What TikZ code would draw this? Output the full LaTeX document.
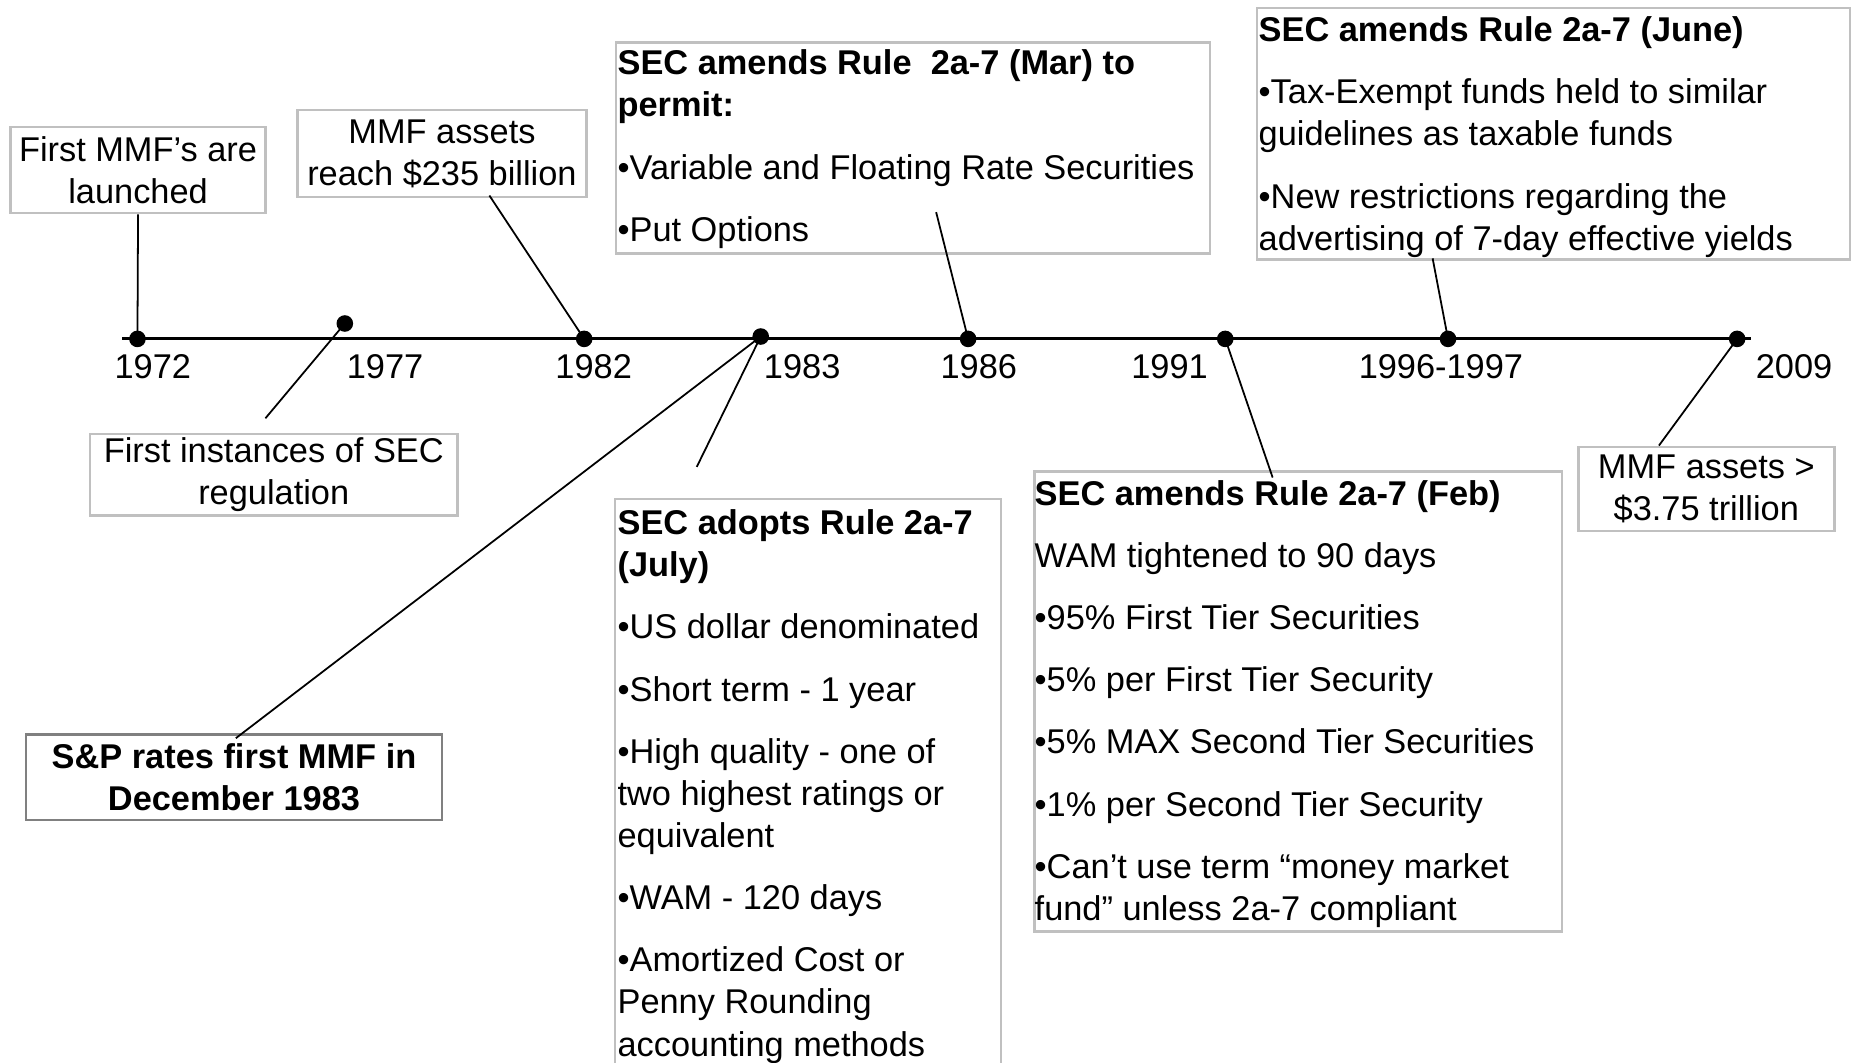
\documentclass[tikz,border=0pt]{standalone}
\usepackage{fontspec}
\setmainfont{Liberation Sans}
\definecolor{boxgray}{RGB}{192,192,192}
\definecolor{boxdark}{RGB}{128,128,128}
\newcommand\mystrut{\rule{0pt}{25pt}}
\begin{document}
\begin{tikzpicture}[x=1pt,y=-1pt,
  txt/.style={inner sep=0pt, font=\fontsize{29}{35.5}\selectfont},
  boxframe/.style={draw=boxgray, line width=2pt, inner sep=0pt, anchor=north west},
  cbox/.style={boxframe, txt, align=center},
  ltxt/.style={txt, align=left, anchor=north west},
  dotnode/.style={circle, fill=black, inner sep=0pt, minimum size=14pt},
  conn/.style={line width=1.5pt},
  yearlbl/.style={txt, anchor=base},
]
\useasboundingbox (0,0) rectangle (1568,897);

% timeline
\coordinate (tlA) at (103,286);
\coordinate (tlB) at (1478,286);
\draw[line width=2.6pt] (tlA) -- (tlB);

% dots
\node[dotnode] (d72) at (116,286) {};
\node[dotnode] (d77) at (291,273) {};
\node[dotnode] (d82) at (493,286) {};
\node[dotnode] (d83) at (642,284) {};
\node[dotnode] (d86) at (817,286) {};
\node[dotnode] (d91) at (1034,286) {};
\node[dotnode] (d96) at (1222,286) {};
\node[dotnode] (d09) at (1466,286) {};

% year labels
\node[yearlbl] (y72) at (129,319) {1972};
\node[yearlbl] (y77) at (325,319) {1977};
\node[yearlbl] (y82) at (501,319) {1982};
\node[yearlbl] (y83) at (677,319) {1983};
\node[yearlbl] (y86) at (826,319) {1986};
\node[yearlbl] (y91) at (987,319) {1991};
\node[yearlbl] (y96) at (1216,319) {1996-1997};
\node[yearlbl] (y09) at (1514,319) {2009};

% centred boxes
\node[cbox, minimum width=215pt, minimum height=73pt] (b1) at (8,106) {First MMF’s are\\launched};
\node[cbox, minimum width=244pt, minimum height=73pt] (b2) at (250,92) {MMF assets\\reach \$235 billion};
\node[cbox, minimum width=310pt, minimum height=69pt] (b5) at (75,365) {First instances of SEC\\regulation};
\node[cbox, draw=boxdark, minimum width=351pt, minimum height=72pt] (b6) at (21,619) {\textbf{S\&P rates first MMF in}\\\textbf{December 1983}};
\node[cbox, minimum width=216pt, minimum height=71pt] (b9) at (1331,376) {MMF assets >\\\$3.75 trillion};

% left-aligned boxes
\node[boxframe, minimum width=501pt, minimum height=178pt] (b3) at (519,35) {};
\node[ltxt] (t3) at (521,38) {\mystrut\textbf{SEC amends Rule~ 2a-7 (Mar) to}\\\textbf{permit:}\\[17pt]•Variable and Floating Rate Securities\\[17pt]•Put Options};

\node[boxframe, minimum width=500pt, minimum height=212pt] (b4) at (1060,6) {};
\node[ltxt] (t4) at (1062,10) {\mystrut\textbf{SEC amends Rule 2a-7 (June)}\\[17pt]•Tax-Exempt funds held to similar\\guidelines as taxable funds\\[17pt]•New restrictions regarding the\\advertising of 7-day effective yields};

\draw[boxgray, line width=2pt] (519,900) |- (845,421) -- (845,900);
\node[ltxt] (t7) at (521,426) {\mystrut\textbf{SEC adopts Rule 2a-7}\\\textbf{(July)}\\[17pt]•US dollar denominated\\[17pt]•Short term - 1 year\\[17pt]•High quality - one of\\two highest ratings or\\equivalent\\[17pt]•WAM - 120 days\\[17pt]•Amortized Cost or\\Penny Rounding\\accounting methods};

\node[boxframe, minimum width=445pt, minimum height=388pt] (b8) at (872,397) {};
\node[ltxt] (t8) at (873,401) {\mystrut\textbf{SEC amends Rule 2a-7 (Feb)}\\[17pt]WAM tightened to 90 days\\[17pt]•95\% First Tier Securities\\[17pt]•5\% per First Tier Security\\[17pt]•5\% MAX Second Tier Securities\\[17pt]•1\% per Second Tier Security\\[17pt]•Can’t use term “money market\\fund” unless 2a-7 compliant};

% connector free ends
\coordinate (c2s) at (413,165);
\coordinate (c3s) at (790,179);
\coordinate (c4s) at (1209,218);
\coordinate (c5s) at (224,353);
\coordinate (c6s) at (199,623);
\coordinate (c7s) at (588,394);
\coordinate (c8e) at (1074,403);
\coordinate (c9s) at (1400,376);

% connectors
\draw[conn] (b1.south) -- (d72.center);
\draw[conn] (c2s) -- (d82.center);
\draw[conn] (c3s) -- (d86.center);
\draw[conn] (c4s) -- (d96.center);
\draw[conn] (c5s) -- (d77.center);
\draw[conn] (c6s) -- (d83.center);
\draw[conn] (c7s) -- (d83.center);
\draw[conn] (d91.center) -- (c8e);
\draw[conn] (c9s) -- (d09.center);
\end{tikzpicture}
\end{document}
